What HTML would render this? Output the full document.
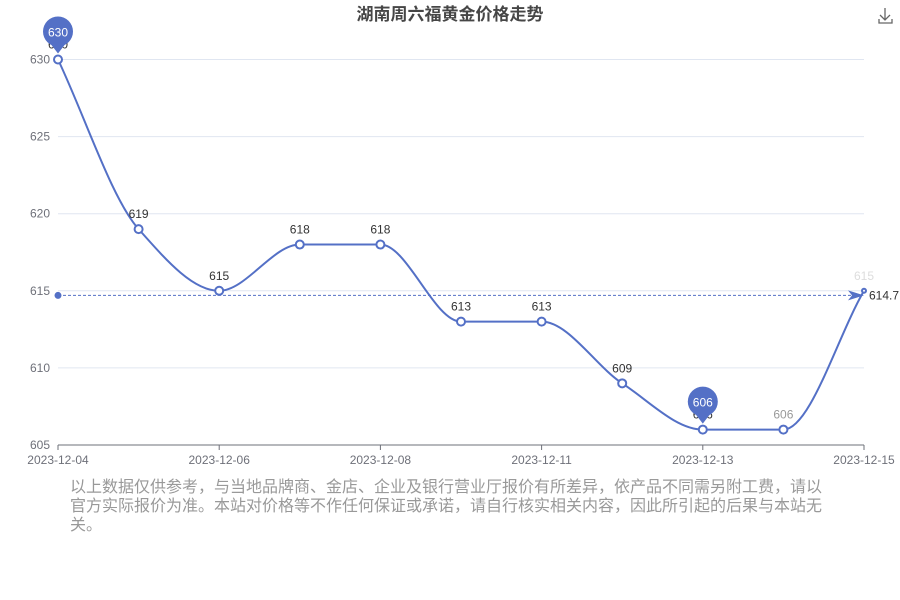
<!DOCTYPE html>
<html><head><meta charset="utf-8"><style>
body{margin:0;background:#fff;width:900px;height:600px;overflow:hidden;font-family:"Liberation Sans","Noto Sans CJK SC",sans-serif}
#note{position:absolute;left:70px;top:478px;width:760px;font-size:16px;line-height:19px;color:#999}
</style></head><body>
<svg id="chart" width="900" height="600" style="position:absolute;left:0;top:0" font-family="Liberation Sans, Noto Sans CJK SC, sans-serif">
<text x="450" y="20" text-anchor="middle" font-size="17" font-weight="bold" fill="#464646">湖南周六福黄金价格走势</text>
<g stroke="#666" fill="none" stroke-width="1.3"><path d="M885 8v12M880 15l5 5 5-5M879 19v4h13v-4"/></g>
<g id="grid"></g><g id="axes"></g><g id="marks"></g>
</svg>
<div id="note">以上数据仅供参考，与当地品牌商、金店、企业及银行营业厅报价有所差异，依产品不同需另附工费，请以官方实际报价为准。本站对价格等不作任何保证或承诺，请自行核实相关内容，因此所引起的后果与本站无关。</div>
<script>
const categories=["2023-12-04","2023-12-05","2023-12-06","2023-12-07","2023-12-08","2023-12-09","2023-12-11","2023-12-12","2023-12-13","2023-12-14","2023-12-15"];
const prices=[630,619,615,618,618,613,613,609,606,606,615];
const yTicks=[605,610,615,620,625,630];
const avgValue=614.7;
const NS="http://www.w3.org/2000/svg";
const x0=58,x1=864,y0=445,y1=59.5;
const X=i=>x0+(x1-x0)*i/(categories.length-1);
const Y=v=>y0-(v-605)/(630-605)*(y0-y1);
function el(t,a,p){const e=document.createElementNS(NS,t);for(const k in a)e.setAttribute(k,a[k]);p.appendChild(e);return e;}
const grid=document.getElementById('grid'),axes=document.getElementById('axes'),marks=document.getElementById('marks');
yTicks.forEach(v=>{
 const l=el('line',{x1:x0,x2:x1,y1:Y(v),y2:Y(v),stroke:v===605?'#6e7079':'#e0e6f1'},grid);
 
 
 const t=el('text',{x:50,y:Y(v)+4,'text-anchor':'end','font-size':12,fill:'#6e7079'},axes);t.textContent=v;
 
 
});
categories.forEach((c,i)=>{
 if(i%2)return;
 const tk=el('line',{x1:X(i),x2:X(i),y1:y0,y2:y0+5,stroke:'#6e7079'},axes);
 
 
 const t=el('text',{x:X(i),y:y0+19,'text-anchor':'middle','font-size':12,fill:'#6e7079'},axes);t.textContent=c;
 
 
});
// monotone cubic path
const pts=prices.map((v,i)=>[X(i),Y(v)]);
const n=pts.length,d=[],m=[];
for(let i=0;i<n-1;i++)d.push((pts[i+1][1]-pts[i][1])/(pts[i+1][0]-pts[i][0]));
for(let i=0;i<n;i++){if(i===0)m.push(d[0]);else if(i===n-1)m.push(d[n-2]);else m.push(d[i-1]*d[i]<=0?0:2/(1/d[i-1]+1/d[i]));}
let p=`M${pts[0][0]},${pts[0][1]}`;
for(let i=0;i<n-1;i++){const h=(pts[i+1][0]-pts[i][0])/3;p+=`C${pts[i][0]+h},${pts[i][1]+m[i]*h} ${pts[i+1][0]-h},${pts[i+1][1]-m[i+1]*h} ${pts[i+1][0]},${pts[i+1][1]}`;}
const line=el('path',{d:p,fill:'none',stroke:'#5470c6','stroke-width':2},marks);


// average line
const ay=Y(avgValue);
const al=el('line',{x1:x0,x2:x1-8,y1:ay,y2:ay,stroke:'#5470c6','stroke-dasharray':'3,2','stroke-width':1},marks);


el('circle',{cx:x0,cy:ay,r:3.5,fill:'#5470c6'},marks);
el('path',{d:`M${x1-16},${ay-5}L${x1},${ay}L${x1-16},${ay+5}L${x1-12},${ay}Z`,fill:'#5470c6'},marks);
const at=el('text',{x:x1+5,y:ay+4,'font-size':12,fill:'#333'},marks);at.textContent=avgValue;


const maxV=Math.max(...prices),minV=Math.min(...prices);
const iMax=prices.indexOf(maxV),iMin=prices.indexOf(minV);
prices.forEach((v,i)=>{
 const c=el('circle',{cx:X(i),cy:Y(v),r:i===n-1?2:4,fill:'#fff',stroke:'#5470c6','stroke-width':2},marks);
 
 
 const col=i===n-1?'#ddd':(i===9?'#999':'#333');
 const t=el('text',{x:X(i),y:Y(v)-11,'text-anchor':'middle','font-size':12,fill:col},marks);t.textContent=v;
 
 
});
[[iMax,maxV],[iMin,minV]].forEach(([i,v])=>{
 const cx=X(i),cy=Y(v)-28;
 const g=el('g',{},marks);
 
 
 el('path',{d:`M${cx-10},${cy+9}L${cx},${cy+22}L${cx+10},${cy+9}Z`,fill:'#5470c6'},g);
 el('circle',{cx:cx,cy:cy,r:15,fill:'#5470c6'},g);
 const t=el('text',{x:cx,y:cy+5,'text-anchor':'middle','font-size':12,fill:'#fff'},g);t.textContent=v;
});
</script>
</body></html>
